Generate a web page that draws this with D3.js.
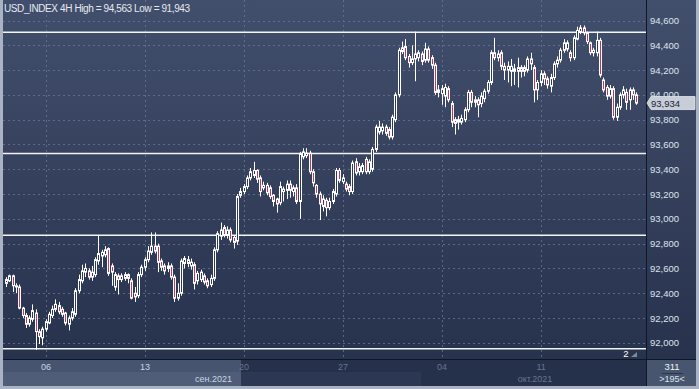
<!DOCTYPE html>
<html>
<head>
<meta charset="utf-8">
<script src="https://cdn.jsdelivr.net/npm/d3@7/dist/d3.min.js"></script>
<style>
    body { margin: 0; background: #fff; }
    svg { display: block; font-family: "Liberation Sans", Arial, sans-serif; }
</style>
</head>
<body>
<svg id="chart" width="699" height="389"></svg>
<script>
const symbolTitle = "USD_INDEX 4H High = 94,563 Low = 91,943";

// 4H bars, [open, high, low, close]
const candles = [
    [92.48, 92.53, 92.45, 92.51], [92.50, 92.55, 92.49, 92.54], [92.54, 92.55, 92.41, 92.46], [92.46, 92.48, 92.40, 92.45],
    [92.45, 92.47, 92.27, 92.28], [92.28, 92.29, 92.20, 92.22], [92.22, 92.24, 92.12, 92.15], [92.15, 92.22, 92.13, 92.20],
    [92.19, 92.31, 92.17, 92.26], [92.24, 92.27, 91.943, 92.09], [92.09, 92.11, 91.99, 92.05], [92.04, 92.13, 91.98, 92.11],
    [92.11, 92.19, 92.09, 92.17], [92.16, 92.25, 92.15, 92.23], [92.22, 92.30, 92.20, 92.27], [92.27, 92.35, 92.25, 92.31],
    [92.30, 92.33, 92.23, 92.25], [92.27, 92.29, 92.21, 92.23], [92.24, 92.25, 92.14, 92.16], [92.15, 92.22, 92.10, 92.20],
    [92.20, 92.28, 92.18, 92.25], [92.23, 92.44, 92.21, 92.42], [92.42, 92.55, 92.40, 92.51], [92.50, 92.63, 92.48, 92.58],
    [92.57, 92.64, 92.53, 92.60], [92.58, 92.60, 92.51, 92.53], [92.53, 92.62, 92.50, 92.57], [92.55, 92.69, 92.53, 92.67],
    [92.66, 92.87, 92.63, 92.72], [92.70, 92.75, 92.61, 92.73], [92.71, 92.78, 92.69, 92.75], [92.76, 92.77, 92.54, 92.56],
    [92.62, 92.64, 92.46, 92.57], [92.45, 92.57, 92.42, 92.55], [92.54, 92.56, 92.39, 92.51], [92.51, 92.56, 92.49, 92.54],
    [92.52, 92.57, 92.50, 92.55], [92.55, 92.56, 92.48, 92.52], [92.50, 92.52, 92.35, 92.36], [92.40, 92.45, 92.33, 92.37],
    [92.38, 92.57, 92.36, 92.55], [92.55, 92.63, 92.53, 92.61], [92.61, 92.69, 92.58, 92.67], [92.67, 92.78, 92.65, 92.74],
    [92.73, 92.89, 92.71, 92.78], [92.78, 92.89, 92.72, 92.74], [92.78, 92.80, 92.57, 92.65], [92.66, 92.68, 92.58, 92.61],
    [92.62, 92.64, 92.55, 92.58], [92.60, 92.65, 92.57, 92.62], [92.62, 92.64, 92.51, 92.53], [92.53, 92.55, 92.33, 92.36],
    [92.36, 92.48, 92.34, 92.40], [92.40, 92.68, 92.38, 92.66], [92.64, 92.70, 92.60, 92.68], [92.64, 92.70, 92.61, 92.67],
    [92.62, 92.68, 92.59, 92.65], [92.63, 92.65, 92.43, 92.48], [92.50, 92.58, 92.47, 92.56], [92.51, 92.59, 92.49, 92.57],
    [92.54, 92.56, 92.47, 92.49], [92.50, 92.52, 92.44, 92.46], [92.47, 92.55, 92.45, 92.52], [92.52, 92.77, 92.50, 92.75],
    [92.75, 92.90, 92.73, 92.88], [92.86, 92.97, 92.83, 92.91], [92.93, 92.95, 92.85, 92.87], [92.87, 92.94, 92.84, 92.91],
    [92.91, 92.93, 92.81, 92.83], [92.85, 92.87, 92.76, 92.81], [92.82, 93.20, 92.79, 93.18], [93.19, 93.25, 93.17, 93.22],
    [93.22, 93.28, 93.20, 93.26], [93.26, 93.35, 93.24, 93.33], [93.33, 93.41, 93.31, 93.38], [93.35, 93.46, 93.33, 93.39],
    [93.39, 93.40, 93.29, 93.32], [93.33, 93.35, 93.18, 93.22], [93.25, 93.30, 93.23, 93.27], [93.27, 93.29, 93.19, 93.21],
    [93.25, 93.27, 93.16, 93.18], [93.19, 93.20, 93.10, 93.14], [93.16, 93.17, 93.05, 93.12], [93.13, 93.30, 93.11, 93.26],
    [93.22, 93.26, 93.14, 93.24], [93.23, 93.31, 93.16, 93.28], [93.28, 93.31, 93.17, 93.23], [93.22, 93.27, 93.18, 93.25],
    [93.25, 93.28, 93.12, 93.14], [93.14, 93.54, 93.00, 93.52], [93.50, 93.57, 93.48, 93.54], [93.51, 93.57, 93.49, 93.53],
    [93.53, 93.55, 93.36, 93.38], [93.38, 93.40, 93.26, 93.29], [93.27, 93.28, 93.17, 93.20], [93.20, 93.22, 92.99, 93.12],
    [93.10, 93.19, 93.06, 93.16], [93.15, 93.17, 93.02, 93.09], [93.09, 93.17, 93.07, 93.14], [93.14, 93.24, 93.12, 93.22],
    [93.20, 93.41, 93.18, 93.39], [93.39, 93.41, 93.29, 93.31], [93.30, 93.36, 93.28, 93.33], [93.28, 93.30, 93.22, 93.24],
    [93.26, 93.28, 93.19, 93.22], [93.22, 93.47, 93.20, 93.45], [93.46, 93.49, 93.35, 93.37], [93.38, 93.45, 93.35, 93.42],
    [93.38, 93.45, 93.36, 93.43], [93.48, 93.50, 93.36, 93.38], [93.38, 93.48, 93.36, 93.46], [93.40, 93.58, 93.38, 93.56],
    [93.56, 93.76, 93.54, 93.74], [93.70, 93.79, 93.68, 93.74], [93.71, 93.77, 93.68, 93.74], [93.74, 93.76, 93.67, 93.69],
    [93.72, 93.74, 93.64, 93.66], [93.66, 93.84, 93.64, 93.82], [93.80, 94.02, 93.78, 94.00], [94.00, 94.38, 93.98, 94.36],
    [94.35, 94.43, 94.33, 94.38], [94.39, 94.45, 94.28, 94.30], [94.31, 94.33, 94.22, 94.26], [94.26, 94.40, 94.24, 94.29],
    [94.29, 94.51, 94.11, 94.33], [94.30, 94.36, 94.27, 94.34], [94.33, 94.35, 94.24, 94.27], [94.28, 94.42, 94.26, 94.37],
    [94.37, 94.39, 94.26, 94.28], [94.30, 94.32, 94.21, 94.24], [94.24, 94.26, 94.00, 94.02], [94.02, 94.08, 93.98, 94.04],
    [94.01, 94.08, 93.92, 94.05], [93.99, 94.09, 93.90, 94.06], [94.05, 94.07, 93.94, 93.96], [93.93, 93.95, 93.74, 93.78],
    [93.80, 93.82, 93.68, 93.77], [93.78, 93.83, 93.72, 93.80], [93.78, 93.84, 93.76, 93.81], [93.80, 93.90, 93.78, 93.88],
    [93.88, 94.04, 93.86, 94.02], [94.02, 94.04, 93.90, 93.94], [93.94, 93.99, 93.90, 93.96], [93.96, 93.98, 93.82, 93.92],
    [93.93, 94.02, 93.90, 93.99], [93.97, 94.05, 93.94, 94.03], [94.03, 94.12, 94.01, 94.10], [94.10, 94.36, 94.08, 94.34],
    [94.34, 94.46, 94.28, 94.30], [94.30, 94.36, 94.27, 94.33], [94.34, 94.36, 94.20, 94.23], [94.23, 94.26, 94.12, 94.20],
    [94.20, 94.27, 94.10, 94.23], [94.19, 94.29, 94.07, 94.23], [94.19, 94.25, 94.08, 94.21], [94.19, 94.30, 94.06, 94.22],
    [94.22, 94.24, 94.14, 94.19], [94.22, 94.24, 94.15, 94.19], [94.20, 94.31, 94.18, 94.29], [94.29, 94.34, 94.20, 94.25],
    [94.22, 94.24, 93.94, 94.04], [94.04, 94.12, 93.96, 94.10], [94.10, 94.20, 94.07, 94.17], [94.17, 94.19, 94.08, 94.13],
    [94.13, 94.15, 94.05, 94.08], [94.07, 94.17, 94.02, 94.14], [94.14, 94.27, 94.12, 94.25], [94.25, 94.31, 94.22, 94.28],
    [94.28, 94.38, 94.26, 94.36], [94.36, 94.45, 94.34, 94.42], [94.37, 94.44, 94.35, 94.42], [94.34, 94.36, 94.27, 94.30],
    [94.30, 94.48, 94.28, 94.46], [94.45, 94.55, 94.44, 94.52], [94.51, 94.563, 94.49, 94.54], [94.54, 94.56, 94.48, 94.50],
    [94.50, 94.51, 94.41, 94.43], [94.42, 94.43, 94.32, 94.34], [94.34, 94.38, 94.31, 94.36], [94.34, 94.51, 94.31, 94.44],
    [94.44, 94.46, 94.14, 94.16], [94.12, 94.14, 94.02, 94.04], [94.06, 94.08, 93.96, 93.99], [93.99, 94.08, 93.97, 94.05],
    [94.05, 94.07, 93.80, 93.82], [93.82, 93.93, 93.79, 93.90], [93.90, 94.02, 93.88, 94.00], [94.00, 94.07, 93.97, 94.04],
    [94.02, 94.05, 93.88, 93.94], [93.96, 94.06, 93.88, 94.04], [94.04, 94.06, 93.96, 94.00], [94.00, 94.02, 93.92, 93.934]
];

const priceTicks = [92.0, 92.2, 92.4, 92.6, 92.8, 93.0, 93.2, 93.4, 93.6, 93.8, 94.0, 94.2, 94.4, 94.6];
const levelLines = [94.505, 93.527, 92.867, 91.951];
const weekStarts = [12, 42, 72, 102, 132, 162];
const weekLabels = ["06", "13", "20", "27", "04", "11"];
const monthLabels = ["сен.2021", "окт.2021"];
const lastPrice = 93.934;
const barsTotal = "311";
const barsVisible = ">195<";

const W = 699, H = 389;
const plotRight = 646, axisTop = 359, axisBottom = 386;

const svg = d3.select("#chart");

const x = d3.scaleLinear().domain([0, candles.length - 1]).range([6, 636.3]);
const y = d3.scaleLinear().domain([92.0, 94.6]).range([342.8, 20.5]);

const fmt = v => d3.format(".3f")(v).replace(".", ",");

function drawBackground() {
    const defs = svg.append("defs");
    const grad = defs.append("linearGradient")
        .attr("id", "bg").attr("gradientUnits", "userSpaceOnUse")
        .attr("x1", 0).attr("y1", 0).attr("x2", 0).attr("y2", axisTop);
    grad.append("stop").attr("offset", "0%").attr("stop-color", "#424f6c");
    grad.append("stop").attr("offset", "100%").attr("stop-color", "#27324d");

    svg.append("rect").attr("width", W).attr("height", H).attr("fill", "#aab3c3");
    svg.append("rect").attr("x", 3).attr("y", 0).attr("width", 693).attr("height", axisBottom)
        .attr("fill", "url(#bg)");

    // bottom time strip
    svg.append("rect").attr("x", 3).attr("y", axisTop).attr("width", plotRight - 3).attr("height", axisBottom - axisTop)
        .attr("fill", "#25304a");
    svg.append("rect").attr("x", 3).attr("y", axisTop).attr("width", 238).attr("height", 13)
        .attr("fill", "#46546f");
    svg.append("rect").attr("x", 3).attr("y", axisTop + 13).attr("width", 238).attr("height", axisBottom - axisTop - 13)
        .attr("fill", "#4f5d78");
    svg.append("rect").attr("x", 241).attr("y", axisTop + 13).attr("width", 180).attr("height", axisBottom - axisTop - 13)
        .attr("fill", "#2b3753");
    svg.append("rect").attr("x", plotRight).attr("y", axisTop).attr("width", 50).attr("height", axisBottom - axisTop)
        .attr("fill", "#47556f");
}

function drawGrid() {
    const g = svg.append("g").attr("stroke", "#6a7896").attr("stroke-dasharray", "2,3")
        .attr("stroke-width", 1).attr("opacity", 0.75);
    g.selectAll("line.h").data(priceTicks).join("line")
        .attr("x1", 3).attr("x2", plotRight)
        .attr("y1", d => Math.round(y(d)) + 0.5).attr("y2", d => Math.round(y(d)) + 0.5);
    g.selectAll("line.v").data(weekStarts).join("line")
        .attr("y1", 0).attr("y2", axisTop)
        .attr("x1", d => Math.round(x(d)) + 0.5).attr("x2", d => Math.round(x(d)) + 0.5);

    svg.append("g").selectAll("line").data(levelLines).join("line")
        .attr("x1", 3).attr("x2", plotRight)
        .attr("y1", d => y(d)).attr("y2", d => y(d))
        .attr("stroke", "#f2f4f8").attr("stroke-width", 1.5);
}

function drawCandles() {
    const g = svg.append("g");
    const bar = g.selectAll("g").data(candles).join("g")
        .attr("transform", (d, i) => `translate(${Math.round(x(i)) + 0.5},0)`);

    bar.append("line")
        .attr("y1", d => y(d[1])).attr("y2", d => y(d[2]))
        .attr("stroke", "#ffffff").attr("stroke-width", 1);

    bar.append("rect")
        .attr("x", -1)
        .attr("width", 2)
        .attr("y", d => y(Math.max(d[0], d[3])))
        .attr("height", d => Math.max(1, Math.abs(y(d[0]) - y(d[3]))))
        .attr("fill", d => d[3] >= d[0] ? "#2e3a57" : "#b93a60")
        .attr("stroke", "#ffffff").attr("stroke-width", 1);
}

function drawAxes() {
    // frame lines
    svg.append("line").attr("x1", plotRight + 0.5).attr("x2", plotRight + 0.5).attr("y1", 0).attr("y2", axisBottom)
        .attr("stroke", "#0f1626");
    svg.append("line").attr("x1", 3).attr("x2", 696).attr("y1", axisTop + 0.5).attr("y2", axisTop + 0.5)
        .attr("stroke", "#0f1626");

    const right = svg.append("g").attr("transform", `translate(${plotRight},0)`)
        .call(d3.axisRight(y).tickValues(priceTicks).tickFormat(fmt).tickSize(0).tickPadding(4));
    right.select(".domain").remove();
    right.selectAll("text").attr("fill", "#dfe4ee").style("font-size", "9.5px")
        .style("font-family", "'Liberation Sans', Arial, sans-serif");

    const bottom = svg.append("g").attr("transform", `translate(0,${axisTop})`)
        .call(d3.axisBottom(x).tickValues(weekStarts).tickFormat((d, i) => weekLabels[i]).tickSize(0).tickPadding(5));
    bottom.select(".domain").remove();
    bottom.selectAll("text")
        .attr("fill", (d, i) => i < 2 ? "#cdd4e2" : "#66758f")
        .style("font-size", "9px")
        .style("font-family", "'Liberation Sans', Arial, sans-serif");

    svg.append("text").attr("x", 232).attr("y", 382).attr("text-anchor", "end")
        .attr("fill", "#cdd4e2").style("font-size", "9px").text(monthLabels[0]);
    svg.append("text").attr("x", 535).attr("y", 382).attr("text-anchor", "middle")
        .attr("fill", "#66758f").style("font-size", "9px").text(monthLabels[1]);
}

function drawLabels() {
    svg.append("text").attr("x", 4).attr("y", 12)
        .attr("fill", "#e6eaf1").style("font-size", "10px").style("letter-spacing", "-0.4px")
        .text(symbolTitle);

    // last price tag
    const ly = y(lastPrice);
    svg.append("path")
        .attr("d", `M${plotRight + 1},${ly} L${plotRight + 5},${ly - 6.5} L695,${ly - 6.5} L695,${ly + 6.5} L${plotRight + 5},${ly + 6.5} Z`)
        .attr("fill", "#c7ced8").attr("stroke", "#e4e8ee").attr("stroke-width", 0.8);
    svg.append("text").attr("x", plotRight + 5).attr("y", ly + 3.5)
        .attr("fill", "#1b2232").style("font-size", "9.5px").text(fmt(lastPrice));

    // bars counter
    svg.append("text").attr("x", 672).attr("y", 370).attr("text-anchor", "middle")
        .attr("fill", "#f0f2f6").style("font-size", "9.5px").text(barsTotal);
    svg.append("line").attr("x1", 662).attr("x2", 683).attr("y1", 373.5).attr("y2", 373.5)
        .attr("stroke", "#2a3550");
    svg.append("text").attr("x", 672).attr("y", 382).attr("text-anchor", "middle")
        .attr("fill", "#dfe4ee").style("font-size", "9px").text(barsVisible);

    // marker at the bottom right of the plot
    svg.append("text").attr("x", 626).attr("y", 357).attr("text-anchor", "middle")
        .attr("fill", "#ffffff").style("font-size", "9.5px").text("2");
    svg.append("path").attr("d", "M631,357 L637,357 L637,352 Z").attr("fill", "#7d889e");
}

drawBackground();
drawGrid();
drawCandles();
drawAxes();
drawLabels();
</script>
</body>
</html>
